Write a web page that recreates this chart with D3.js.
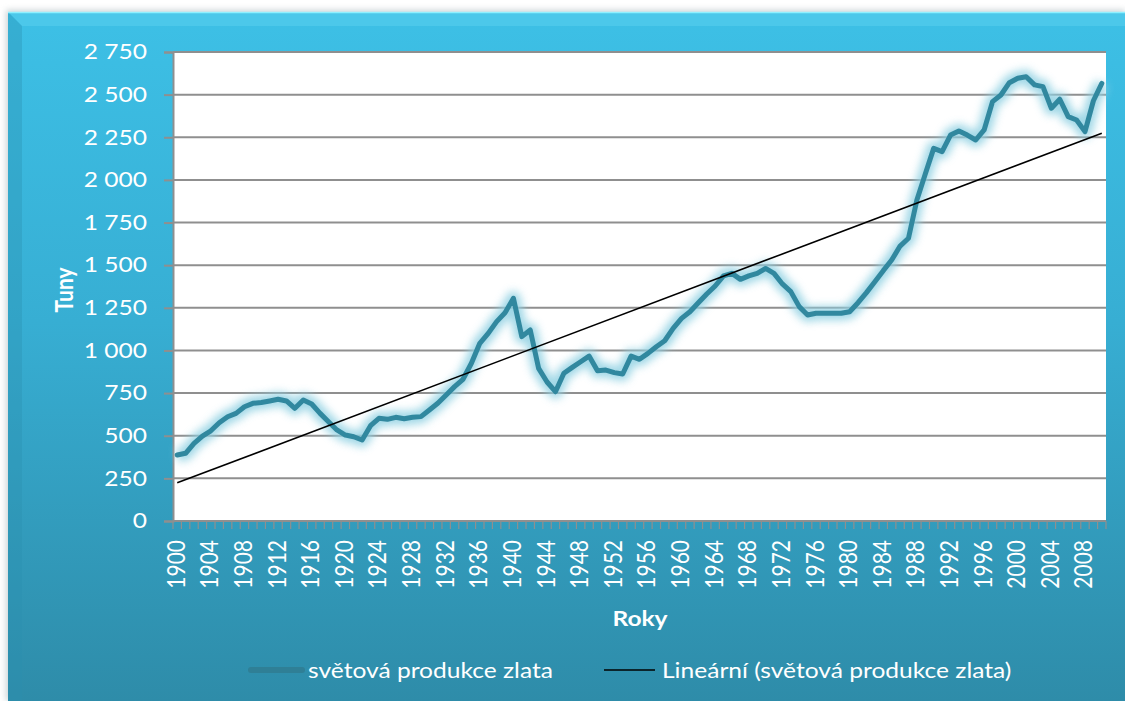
<!DOCTYPE html>
<html>
<head>
<meta charset="utf-8">
<script src="https://cdn.jsdelivr.net/npm/d3@7"></script>
<style>
  html, body { margin: 0; padding: 0; background: #ffffff; }
  svg { display: block; }
  text { font-family: Lato, "Open Sans", sans-serif; }
</style>
</head>
<body>
<svg id="chart" width="1125" height="701"></svg>
<script>
// ---- data ----
const years = d3.range(1900, 2011);
const production = [
  387, 397, 455, 498, 529, 576, 611, 631, 670, 690,
  695, 704, 714, 704, 661, 709, 686, 631, 582, 534,
  504, 494, 475, 559, 602, 596, 608, 600, 608, 612,
  651, 690, 739, 788, 831, 925, 1042, 1100, 1169, 1221,
  1306, 1081, 1120, 895, 815, 758, 866, 901, 934, 967,
  881, 885, 870, 862, 967, 948, 983, 1022, 1057, 1130,
  1188, 1227, 1280, 1331, 1378, 1437, 1452, 1417, 1437, 1452,
  1481, 1452, 1390, 1345, 1257, 1208, 1218, 1218, 1218, 1218,
  1227, 1280, 1339, 1403, 1468, 1530, 1612, 1658, 1882, 2035,
  2185, 2166, 2263, 2287, 2263, 2234, 2293, 2459, 2498, 2570,
  2596, 2605, 2557, 2547, 2420, 2473, 2371, 2351, 2283, 2464,
  2566
];
const yTicks = d3.range(0, 2751, 250);
const xLabelYears = years.filter(y => (y - 1900) % 4 === 0);
const seriesName = "světová produkce zlata";
const trendName = "Lineární (světová produkce zlata)";
const xTitle = "Roky";
const yTitle = "Tuny";

// ---- layout ----
const W = 1125, H = 701;
const plot = { left: 173, right: 1106, top: 52, bottom: 521 };
const SX = 1.17; // horizontal text stretch of the original rendering

const svg = d3.select("#chart");
const defs = svg.append("defs");

const bg = defs.append("linearGradient").attr("id", "bg").attr("x1", 0).attr("y1", 0).attr("x2", 0).attr("y2", 1);
bg.append("stop").attr("offset", "0%").attr("stop-color", "#3dc0e6");
bg.append("stop").attr("offset", "45%").attr("stop-color", "#37aed3");
bg.append("stop").attr("offset", "100%").attr("stop-color", "#2e8ca9");

const glow = defs.append("filter").attr("id", "glow").attr("x", "-10%").attr("y", "-20%").attr("width", "120%").attr("height", "140%");
glow.append("feGaussianBlur").attr("stdDeviation", 4);

const shadow = defs.append("filter").attr("id", "shadow").attr("x", "-5%").attr("y", "-5%").attr("width", "110%").attr("height", "110%");
shadow.append("feGaussianBlur").attr("stdDeviation", 3);

// frame
svg.append("rect").attr("x", 6).attr("y", 10).attr("width", W - 6).attr("height", H - 10)
  .attr("fill", "#9aa9ad").attr("opacity", 0.5).attr("filter", "url(#shadow)");
svg.append("rect").attr("x", 8).attr("y", 12).attr("width", W - 8).attr("height", H - 12).attr("fill", "url(#bg)");
svg.append("polygon")
  .attr("points", `8,12 ${W},12 ${W},26 22,26`)
  .attr("fill", "#5fd3f0").attr("opacity", 0.45);
svg.append("polygon")
  .attr("points", `8,12 22,26 22,${H} 8,${H}`)
  .attr("fill", "#2a8fb0").attr("opacity", 0.35);
svg.append("line").attr("x1", 8).attr("x2", W).attr("y1", 12.5).attr("y2", 12.5)
  .attr("stroke", "#8ff0ff").attr("stroke-width", 1.5);

// plot area
svg.append("rect").attr("x", plot.left).attr("y", plot.top)
  .attr("width", plot.right - plot.left).attr("height", plot.bottom - plot.top).attr("fill", "#ffffff");

// ---- scales ----
const x = d3.scaleBand().domain(years).range([plot.left, plot.right]).paddingInner(0).paddingOuter(0);
const xc = d => x(d) + x.bandwidth() / 2;
const y = d3.scaleLinear().domain([0, 2750]).range([plot.bottom, plot.top]);

const locale = d3.formatLocale({ decimal: ",", thousands: " ", grouping: [3], currency: ["", ""] });
const fmt = locale.format(",d");

// gridlines
svg.append("g").selectAll("line").data(yTicks.filter(v => v > 0)).join("line")
  .attr("x1", plot.left).attr("x2", plot.right)
  .attr("y1", d => y(d)).attr("y2", d => y(d))
  .attr("stroke", "#8f8f8f").attr("stroke-width", 2);

// y axis
const yAxis = svg.append("g").attr("transform", `translate(${plot.left},0)`)
  .call(d3.axisLeft(y).tickValues(yTicks).tickFormat(fmt).tickSize(9).tickPadding(10));
yAxis.select(".domain").attr("stroke", "#8f8f8f").attr("stroke-width", 2);
yAxis.selectAll(".tick line").attr("stroke", "#8f8f8f").attr("stroke-width", 2);
yAxis.selectAll(".tick text").attr("fill", "#ffffff").attr("font-size", 21)
  .attr("font-family", "Lato, sans-serif")
  .attr("x", 0).attr("transform", `translate(-26,0) scale(${SX},1)`);

// x axis: ticks at category boundaries
const boundaries = years.map(v => x(v)).concat([plot.right]);
svg.append("g").selectAll("line").data(boundaries).join("line")
  .attr("x1", d => d).attr("x2", d => d)
  .attr("y1", plot.bottom).attr("y2", plot.bottom + 8)
  .attr("stroke", "#8f8f8f").attr("stroke-width", 1.2);
svg.append("line").attr("x1", plot.left).attr("x2", plot.right)
  .attr("y1", plot.bottom).attr("y2", plot.bottom)
  .attr("stroke", "#8f8f8f").attr("stroke-width", 2);

// x labels (rotated)
svg.append("g").selectAll("text").data(xLabelYears).join("text")
  .attr("transform", d => `translate(${xc(d) + 7.5},${plot.bottom + 19}) scale(${SX},1) rotate(-90)`)
  .attr("text-anchor", "end")
  .attr("fill", "#ffffff").attr("font-size", 21)
  .text(d => d);

// axis titles
svg.append("text").attr("transform", `translate(640,626) scale(${SX},1)`).attr("text-anchor", "middle")
  .attr("fill", "#ffffff").attr("font-size", 21).attr("font-weight", "bold").text(xTitle);
svg.append("text").attr("transform", `translate(73,290) scale(${SX},1) rotate(-90)`).attr("text-anchor", "middle")
  .attr("fill", "#ffffff").attr("font-size", 21).attr("font-weight", "bold").text(yTitle);

// ---- series ----
const pts = years.map((yr, i) => ({ yr, v: production[i] }));
const line = d3.line().x(d => xc(d.yr)).y(d => y(d.v));

svg.append("path").datum(pts).attr("d", line)
  .attr("fill", "none").attr("stroke", "#8fd0e2").attr("stroke-width", 14)
  .attr("stroke-linejoin", "round").attr("opacity", 0.85).attr("filter", "url(#glow)");
svg.append("path").datum(pts).attr("d", line)
  .attr("fill", "none").attr("stroke", "#31889f").attr("stroke-width", 5)
  .attr("stroke-linejoin", "round").attr("stroke-linecap", "round");

// linear trend (least squares on category index)
const n = production.length;
const idx = d3.range(1, n + 1);
const mx = d3.mean(idx), my = d3.mean(production);
const slope = d3.sum(idx, (k, i) => (k - mx) * (production[i] - my)) / d3.sum(idx, k => (k - mx) ** 2);
const icpt = my - slope * mx;
const trend = [years[0], years[n - 1]].map((yr) => ({ yr, v: icpt + slope * (yr - years[0] + 1) }));
svg.append("path").datum(trend).attr("d", line)
  .attr("fill", "none").attr("stroke", "#000000").attr("stroke-width", 1.6);

// ---- legend ----
const lg = svg.append("g");
lg.append("line").attr("x1", 251).attr("x2", 302).attr("y1", 670).attr("y2", 670)
  .attr("stroke", "#2f7f96").attr("stroke-width", 6).attr("stroke-linecap", "round");
lg.append("text").attr("transform", `translate(308,678) scale(${SX},1)`)
  .attr("fill", "#ffffff").attr("font-size", 21).text(seriesName);
lg.append("line").attr("x1", 604).attr("x2", 655).attr("y1", 670).attr("y2", 670)
  .attr("stroke", "#000000").attr("stroke-width", 1.6);
lg.append("text").attr("transform", `translate(662,678) scale(${SX},1)`)
  .attr("fill", "#ffffff").attr("font-size", 21).text(trendName);
</script>
</body>
</html>
